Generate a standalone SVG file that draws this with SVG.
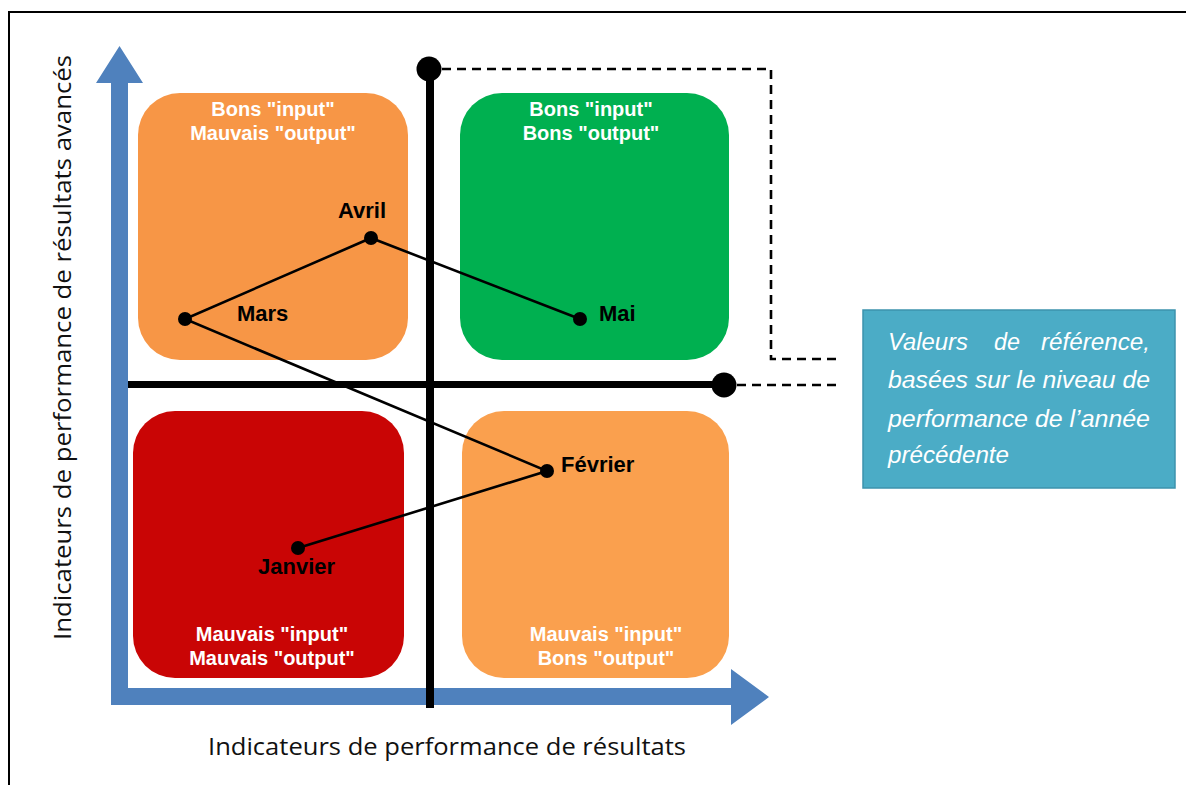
<svg xmlns="http://www.w3.org/2000/svg" width="1186" height="785" viewBox="0 0 1186 785">
<style>
.q{font-family:"Liberation Sans",Arial,sans-serif;font-weight:bold;font-size:20px;fill:#fff;text-anchor:middle}
.lbl{font-family:"Liberation Sans",Arial,sans-serif;font-weight:bold;font-size:22px;fill:#000}
.ax{font-family:"Open Sans","Liberation Sans",sans-serif;font-size:23px;fill:#111}
.call{font-family:"Liberation Sans",Arial,sans-serif;font-style:italic;font-size:23px;fill:#fff}
.dash{fill:none;stroke:#000;stroke-width:2.6;stroke-dasharray:9 6}
.pt{fill:#000}
</style>
<rect x="9" y="12" width="1200" height="800" fill="#fff" stroke="#000" stroke-width="2"/>
<g id="quadrant-tl"><rect x="138" y="93" width="270" height="267" rx="42" fill="#F79646"/>
<text class="q" x="273" y="116">Bons "input"</text><text class="q" x="273" y="140">Mauvais "output"</text></g>
<g id="quadrant-tr"><rect x="460" y="93" width="269" height="267" rx="42" fill="#00B050"/>
<text class="q" x="591" y="116">Bons "input"</text><text class="q" x="591" y="140">Bons "output"</text></g>
<g id="quadrant-bl"><rect x="133" y="411" width="271" height="267" rx="42" fill="#C90505"/>
<text class="q" x="272" y="641">Mauvais "input"</text><text class="q" x="272" y="665">Mauvais "output"</text></g>
<g id="quadrant-br"><rect x="462" y="411" width="267" height="267" rx="42" fill="#FAA04E"/>
<text class="q" x="606" y="641">Mauvais "input"</text><text class="q" x="606" y="665">Bons "output"</text></g>
<g id="axes">
<path d="M111,83 L96,83 L119.5,46 L143,83 L128,83 L128,688 L731,688 L731,669 L769,697 L731,725 L731,705 L111,705 Z" fill="#4F81BD"/>
<text class="ax" transform="translate(71,640) rotate(-90)" textLength="585" lengthAdjust="spacingAndGlyphs">Indicateurs de performance de résultats avancés</text>
<text class="ax" x="208" y="755" textLength="478" lengthAdjust="spacingAndGlyphs">Indicateurs de performance de résultats</text>
</g>
<g id="reference-lines">
<line x1="430" y1="69" x2="430" y2="708" stroke="#000" stroke-width="8"/>
<circle cx="429" cy="69" r="12.5" fill="#000"/>
<line x1="128" y1="384.5" x2="724" y2="384.5" stroke="#000" stroke-width="7"/>
<circle cx="724" cy="385" r="12.5" fill="#000"/>
</g>
<g id="connectors">
<path class="dash" d="M442,69 H771 V359 H842"/>
<path class="dash" d="M737,385 H842"/>
<polyline points="298,548 547,471 185,319 371,238 580,319" fill="none" stroke="#000" stroke-width="2.6"/>
</g>
<g id="point-janvier"><circle class="pt" cx="298" cy="548" r="7"/><text class="lbl" x="258" y="574">Janvier</text></g>
<g id="point-fevrier"><circle class="pt" cx="547" cy="471" r="7"/><text class="lbl" x="561" y="472">Février</text></g>
<g id="point-mars"><circle class="pt" cx="185" cy="319" r="7"/><text class="lbl" x="237" y="321">Mars</text></g>
<g id="point-avril"><circle class="pt" cx="371" cy="238" r="7"/><text class="lbl" x="338" y="218">Avril</text></g>
<g id="point-mai"><circle class="pt" cx="580" cy="319" r="7"/><text class="lbl" x="599" y="321">Mai</text></g>
<g id="callout">
<rect x="863" y="310" width="312" height="178" fill="#4BACC6" stroke="#3C93AD" stroke-width="1.5"/>
<text class="call" x="888" y="350" textLength="80" lengthAdjust="spacingAndGlyphs">Valeurs</text>
<text class="call" x="994" y="350" textLength="26" lengthAdjust="spacingAndGlyphs">de</text>
<text class="call" x="1041" y="350" textLength="109" lengthAdjust="spacingAndGlyphs">référence,</text>
<text class="call" x="888" y="388" textLength="262" lengthAdjust="spacingAndGlyphs">basées sur le niveau de</text>
<text class="call" x="888" y="427" textLength="262" lengthAdjust="spacingAndGlyphs">performance de l’année</text>
<text class="call" x="888" y="463" textLength="121" lengthAdjust="spacingAndGlyphs">précédente</text>
</g>
</svg>
